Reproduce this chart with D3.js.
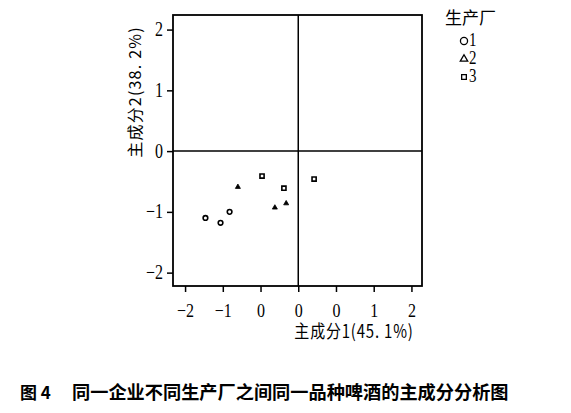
<!DOCTYPE html>
<html>
<head>
<meta charset="utf-8">
<script src="https://cdn.jsdelivr.net/npm/d3@7"></script>
<style>
  body { margin: 0; background: #fff; }
  svg { display: block; }
  text { fill: #000; }
</style>
</head>
<body>
<div id="chart"></div>
<script>
// data (PC1, PC2 scores by plant)
var plant1X = [-1.23, -1.03, -0.91];
var plant1Y = [-1.10, -1.18, -1.00];
var plant2X = [-0.80, -0.31, -0.16];
var plant2Y = [-0.59, -0.93, -0.86];
var plant3X = [-0.48, -0.19, 0.21];
var plant3Y = [-0.41, -0.61, -0.46];

var xTicks = [-1.5, -1, -0.5, 0, 0.5, 1, 1.5];
var xTickLabels = ["\u22122", "\u22121", "0", "0", "0", "1", "2"];
var yTicks = [-2, -1, 0, 1, 2];
var yTickLabels = ["\u22122", "\u22121", "0", "1", "2"];
var legendLabels = ["1", "2", "3"];

var W = 571, H = 413;
var pL = 173, pR = 422, pT = 15, pB = 286;
var serif = "'Liberation Serif', 'Times New Roman', serif";
var cjk = "'Noto Sans CJK SC', 'Noto Sans', sans-serif";

var svg = d3.select("#chart").append("svg")
  .attr("width", W).attr("height", H);

var x = d3.scaleLinear().domain([-1.66, 1.64]).range([pL, pR]);
var y = d3.scaleLinear().domain([-2.22, 2.24]).range([pB, pT]);

// frame
svg.append("rect")
  .attr("x", pL).attr("y", pT)
  .attr("width", pR - pL).attr("height", pB - pT)
  .attr("fill", "none").attr("stroke", "#000").attr("stroke-width", 1.8);

// reference lines at zero
svg.append("line")
  .attr("x1", x(0)).attr("x2", x(0)).attr("y1", pT).attr("y2", pB)
  .attr("stroke", "#000").attr("stroke-width", 1.5);
svg.append("line")
  .attr("x1", pL).attr("x2", pR).attr("y1", y(0)).attr("y2", y(0))
  .attr("stroke", "#000").attr("stroke-width", 1.5);

// axes
var xAxis = d3.axisBottom(x).tickValues(xTicks).tickSize(6).tickSizeOuter(0)
  .tickFormat(function(d, i) { return xTickLabels[i]; });
var gx = svg.append("g").attr("transform", "translate(0," + pB + ")").call(xAxis);
gx.select(".domain").remove();
gx.selectAll(".tick line").attr("stroke-width", 1.5);
gx.selectAll(".tick text")
  .attr("y", 0)
  .attr("dy", 0)
  .attr("transform", "translate(0,31) scale(1,1.2)")
  .style("font-family", serif).style("font-size", "16px");

var yAxis = d3.axisLeft(y).tickValues(yTicks).tickSize(6).tickSizeOuter(0)
  .tickFormat(function(d, i) { return yTickLabels[i]; });
var gy = svg.append("g").attr("transform", "translate(" + pL + ",0)").call(yAxis);
gy.select(".domain").remove();
gy.selectAll(".tick line").attr("stroke-width", 1.5);
gy.selectAll(".tick text")
  .attr("x", 0).attr("dy", 0)
  .attr("transform", "translate(-10,6) scale(1,1.25)")
  .style("font-family", serif).style("font-size", "16px");

// axis titles
svg.append("text")
  .attr("transform", "translate(" + 354 + "," + 338 + ") scale(1,1.2)")
  .attr("text-anchor", "middle")
  .style("font-family", cjk).style("font-size", "15px")
  .style("letter-spacing", "0.8px")
  .text("主成分1(45. 1%)");

svg.append("text")
  .attr("transform", "translate(" + 141 + "," + 92 + ") rotate(-90)")
  .attr("text-anchor", "middle")
  .style("font-family", cjk).style("font-size", "16px")
  .style("letter-spacing", "1.2px")
  .text("主成分2(38. 2%)");

// points
var sym = [d3.symbolCircle, d3.symbolTriangle, d3.symbolSquare];
var groups = [
  { xs: plant1X, ys: plant1Y, s: 0 },
  { xs: plant2X, ys: plant2Y, s: 1 },
  { xs: plant3X, ys: plant3Y, s: 2 }
];
groups.forEach(function(g) {
  svg.append("g").selectAll("path")
    .data(g.xs.map(function(v, i) { return [v, g.ys[i]]; }))
    .join("path")
    .attr("transform", function(d) { return "translate(" + x(d[0]) + "," + y(d[1]) + ")"; })
    .attr("d", d3.symbol().type(sym[g.s]).size(g.s === 1 ? 11 : 17))
    .attr("fill", g.s === 1 ? "#000" : "none")
    .attr("stroke", "#000")
    .attr("stroke-width", g.s === 1 ? 0.8 : 1.6);
});

// legend
svg.append("text")
  .attr("x", 445).attr("y", 24)
  .style("font-family", cjk).style("font-size", "17px")
  .text("生产厂");
var leg = svg.append("g").selectAll("g")
  .data(legendLabels).join("g")
  .attr("transform", function(d, i) { return "translate(464," + (41 + i * 18) + ")"; });
leg.append("path")
  .attr("d", function(d, i) { return d3.symbol().type(sym[i]).size([40, 24, 22][i])(); })
  .attr("fill", "none").attr("stroke", "#000").attr("stroke-width", 1.3);
leg.append("text")
  .attr("x", 5).attr("y", 0)
  .attr("transform", "translate(0,5) scale(1,1.2)")
  .style("font-family", serif).style("font-size", "15px")
  .text(function(d) { return d; });

// caption
svg.append("text")
  .attr("x", 20).attr("y", 399)
  .style("font-family", cjk).style("font-size", "17px").style("font-weight", "bold")
  .text("图 4");
svg.append("text")
  .attr("x", 72).attr("y", 399)
  .style("font-family", cjk).style("font-size", "18.2px").style("font-weight", "bold")
  .text("同一企业不同生产厂之间同一品种啤酒的主成分分析图");
</script>
</body>
</html>
